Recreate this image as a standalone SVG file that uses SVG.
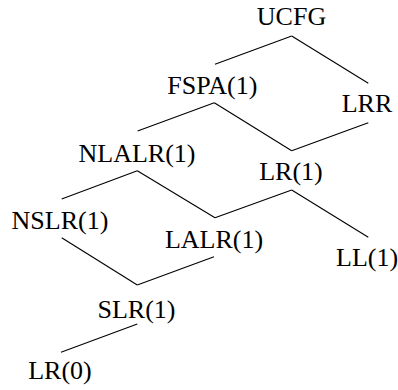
<svg xmlns="http://www.w3.org/2000/svg" width="398" height="390" viewBox="0 0 398 390">
<rect width="398" height="390" fill="#fff"/>
<g id="connectors" stroke="#000" stroke-width="1.1" fill="none">
<line x1="291.7" y1="36" x2="215" y2="64.3"/>
<line x1="291.7" y1="36" x2="368.3" y2="83.3"/>
<line x1="214.3" y1="102.7" x2="137.6" y2="131"/>
<line x1="214.3" y1="102.7" x2="291.7" y2="150.7"/>
<line x1="368.3" y1="122.7" x2="291.7" y2="150.7"/>
<line x1="137.3" y1="170.7" x2="61.7" y2="199"/>
<line x1="137.3" y1="170.7" x2="215" y2="217.7"/>
<line x1="291.7" y1="190" x2="215" y2="217.7"/>
<line x1="291.7" y1="190" x2="368.3" y2="237.3"/>
<line x1="61.7" y1="237.7" x2="137.3" y2="285"/>
<line x1="214" y1="256.7" x2="137.3" y2="285"/>
<line x1="137.3" y1="324" x2="61" y2="352.3"/>
</g>
<g font-size="26" fill="#000">
<g id="ucfg"><text x="256.8" y="25" font-family="Liberation Serif">UCFG</text></g>
<g id="fspa1"><text x="167.3" y="94" font-family="Liberation Serif">FSPA(1)</text></g>
<g id="lrr"><text x="341.7" y="112" font-family="Liberation Serif">LRR</text></g>
<g id="nlalr1"><text x="78.5" y="161.5" font-family="Liberation Serif">NLALR(1)</text></g>
<g id="lr1"><text x="259.2" y="180" font-family="Liberation Serif">LR(1)</text></g>
<g id="nslr1"><text x="11.6" y="228.5" font-family="Liberation Serif">NSLR(1)</text></g>
<g id="lalr1"><text x="164.9" y="248" font-family="Liberation Serif">LALR(1)</text></g>
<g id="ll1"><text x="336" y="265.5" font-family="Liberation Serif">LL(1)</text></g>
<g id="slr1"><text x="97.5" y="318" font-family="Liberation Serif">SLR(1)</text></g>
<g id="lr0"><text x="28.2" y="379" font-family="Liberation Serif">LR(0)</text></g>
</g>
</svg>
